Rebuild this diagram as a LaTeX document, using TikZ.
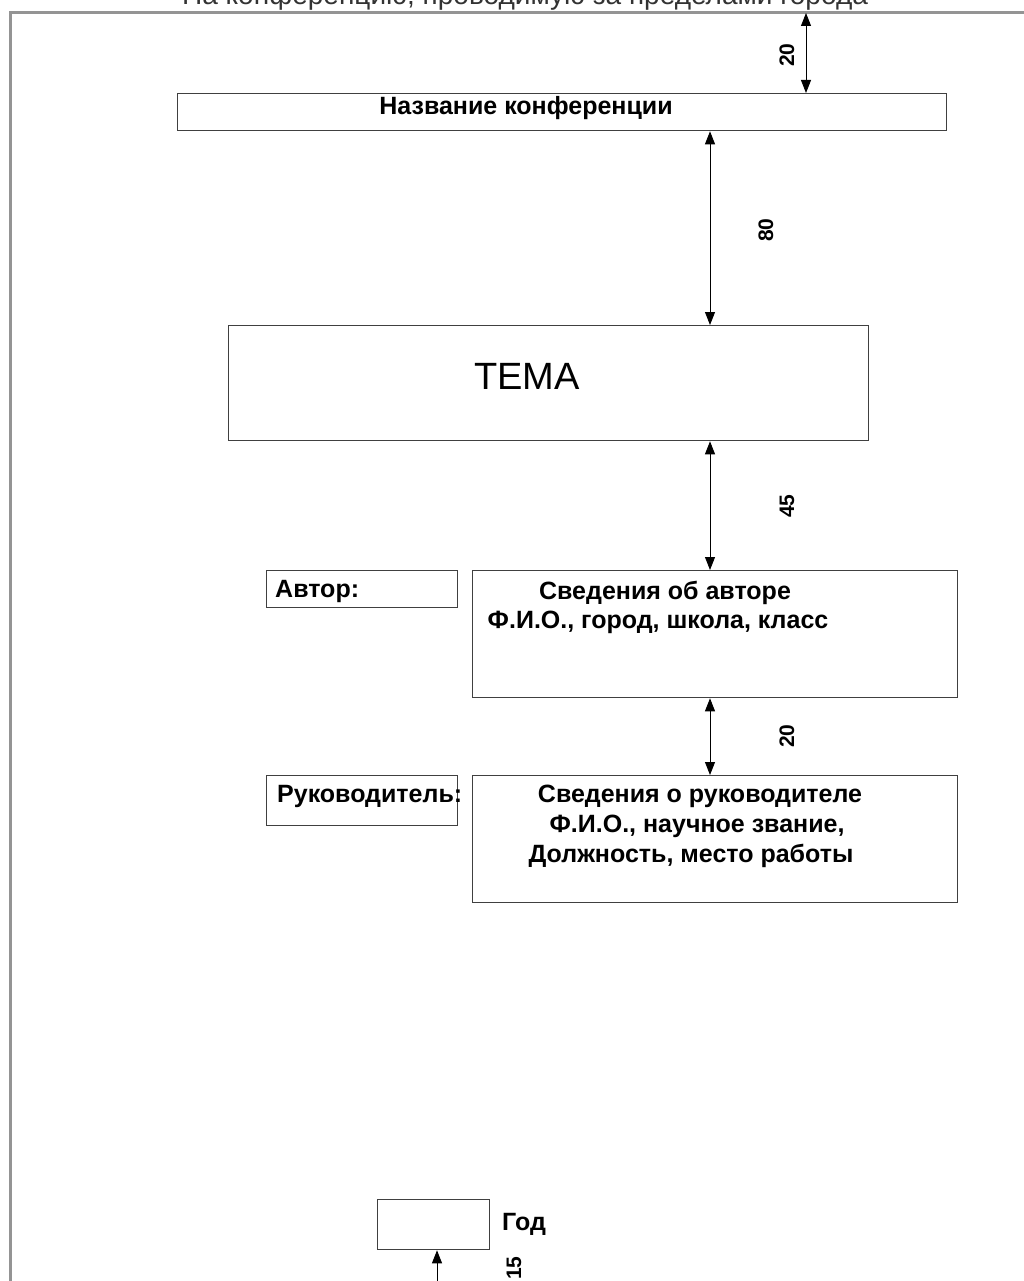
\documentclass[tikz,border=0pt]{standalone}
\usepackage{fontspec}
\setmainfont{Liberation Sans}
\usetikzlibrary{arrows.meta}
\begin{document}
\begin{tikzpicture}[x=1pt,y=-1pt,
  box/.style={draw=black!75,line width=1.3pt,rectangle,inner sep=0pt,anchor=north west},
  dim/.style={draw=black,line width=0.9pt,{Triangle[width=10pt,length=13pt]}-{Triangle[width=10pt,length=13pt]}},
  dimlbl/.style={font=\bfseries\fontsize{21}{23}\selectfont,rotate=90,inner sep=0pt},
  btxt/.style={font=\bfseries\fontsize{25}{28}\selectfont,inner sep=0pt}
]
\useasboundingbox (0,0) rectangle (1024,1281);
\fill[white] (0,0) rectangle (1024,1281);
% page frame
\coordinate (ftl) at (10,13);
\coordinate (ftr) at (1024,13);
\coordinate (fbl) at (10,1281);
\draw[draw=black!42,line width=3pt] (fbl) -- (ftl) -- (ftr);
% heading, cut off at the top edge as in the reference
\node[font=\fontsize{28}{30}\selectfont,text=black!80,anchor=base,inner sep=0pt] (head) at (525,5) {На конференцию, проводимую за пределами города};
% boxes
\node[box,minimum width=769pt,minimum height=37pt] (title) at (177,93) {};
\node[btxt] (titletxt) at (526,108) {Название конференции};
\node[box,minimum width=640pt,minimum height=115pt] (tema) at (228,325) {};
\node[font=\fontsize{38}{42}\selectfont,inner sep=0pt] (tematxt) at (527,376) {ТЕМА};
\node[box,minimum width=191pt,minimum height=37pt] (avt) at (266,570) {};
\node[btxt,anchor=west] (avttxt) at (275,591) {Автор:};
\node[box,minimum width=485pt,minimum height=127pt] (avinfo) at (472,570) {};
\node[btxt] (av1) at (665,593) {Сведения об авторе};
\node[btxt] (av2) at (658,622) {Ф.И.О., город, школа, класс};
\node[box,minimum width=191pt,minimum height=50pt] (ruk) at (266,775) {};
\node[btxt,anchor=west] (ruktxt) at (277,796) {Руководитель:};
\node[box,minimum width=485pt,minimum height=127pt] (rukinfo) at (472,775) {};
\node[btxt] (rk1) at (700,796) {Сведения о руководителе};
\node[btxt] (rk2) at (697,826) {Ф.И.О., научное звание,};
\node[btxt] (rk3) at (691,856) {Должность, место работы};
\node[box,minimum width=112pt,minimum height=50pt] (god) at (377,1199) {};
\node[btxt,anchor=west] (godtxt) at (502,1224) {Год};
\coordinate (yr) at (437,1300);
% dimension arrows
\draw[dim] (ftl -| 806,0) -- (title.north -| 806,0);
\node[dimlbl] (l20a) at (787,55) {20};
\draw[dim] (title.south -| 710,0) -- (tema.north -| 710,0);
\node[dimlbl] (l80) at (766,230) {80};
\draw[dim] (tema.south -| 710,0) -- (avinfo.north -| 710,0);
\node[dimlbl] (l45) at (787,506) {45};
\draw[dim] (avinfo.south -| 710,0) -- (rukinfo.north -| 710,0);
\node[dimlbl] (l20b) at (787,736) {20};
\draw[dim] (god.south -| 437,0) -- (yr);
\node[dimlbl] (l15) at (514,1268) {15};
\end{tikzpicture}
\end{document}
